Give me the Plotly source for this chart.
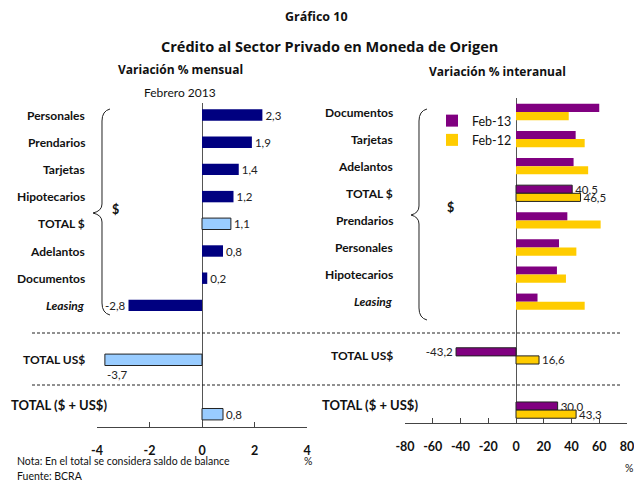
import plotly.graph_objects as go

# page body adds an 8px offset; figure sized to fit inside the window
OFF = 8
W, H = 642 - OFF, 482 - OFF
FONT = "Lato"
HEAD = "Open Sans"

# Variación % mensual (Febrero 2013)
cats_mensual = ["Personales", "Prendarios", "Tarjetas", "Hipotecarios", "TOTAL $",
                "Adelantos", "Documentos", "Leasing", "TOTAL US$", "TOTAL ($ + US$)"]
var_mensual = [2.3, 1.9, 1.4, 1.2, 1.1, 0.8, 0.2, -2.8, -3.7, 0.8]

# Variación % interanual
cats_interanual = ["Documentos", "Tarjetas", "Adelantos", "TOTAL $", "Prendarios",
                   "Personales", "Hipotecarios", "Leasing", "TOTAL US$", "TOTAL ($ + US$)"]
feb13 = [60.0, 43.0, 41.5, 40.5, 37.0, 31.0, 29.5, 15.5, -43.2, 30.0]
feb12 = [38.0, 49.5, 52.0, 46.5, 61.0, 43.5, 36.0, 49.5, 16.6, 43.3]

ticks_mensual = [-4, -2, 0, 2, 4]
ticks_interanual = [-80, -60, -40, -20, 0, 20, 40, 60, 80]

# slot of each category on the vertical axis (gap before the two totals)
slots = [0, 1, 2, 3, 4, 5, 6, 7, 9, 11]
totals = {"TOTAL $", "TOTAL US$", "TOTAL ($ + US$)"}


def fmt(v):
    return f"{v:.1f}".replace(".", ",")


def px(x):
    return (x - OFF) / W


def py(y):
    return 1 - (y - OFF) / H


fig = go.Figure()

# --- left panel: monthly change ---
left_colors = ["#99CCFF" if c in totals else "#000080" for c in cats_mensual]
left_lines = [1 if c in totals else 0 for c in cats_mensual]
left_text = ["" if c == "TOTAL US$" else fmt(v) for c, v in zip(cats_mensual, var_mensual)]
fig.add_trace(go.Bar(
    x=var_mensual, y=slots, orientation="h", width=0.42,
    marker=dict(color=left_colors, line=dict(color="#222222", width=left_lines)),
    text=left_text, textposition="outside", cliponaxis=False, constraintext="none",
    textfont=dict(family=FONT, size=11.5, color="#222222"),
    showlegend=False, xaxis="x", yaxis="y", hoverinfo="x+y",
))

# --- right panel: year-on-year change ---
right_lines = [1 if c in totals else 0 for c in cats_interanual]
for name, vals, color, offset in (("Feb-13", feb13, "#800080", -0.3),
                                  ("Feb-12", feb12, "#FFCC00", 0)):
    fig.add_trace(go.Bar(
        name=name, x=vals, y=slots, orientation="h", width=0.3, offset=offset,
        marker=dict(color=color, line=dict(color="#222222", width=right_lines)),
        text=[fmt(v) if c in totals else "" for c, v in zip(cats_interanual, vals)],
        textposition="outside", cliponaxis=False, constraintext="none",
        textfont=dict(family=FONT, size=11.5, color="#222222"),
        xaxis="x2", yaxis="y2",
    ))

axis_common = dict(showgrid=False, showline=True, linecolor="#444444", linewidth=1,
                   ticks="inside", ticklen=5, tickcolor="#444444",
                   zeroline=True, zerolinecolor="#555555", zerolinewidth=1,
                   tickfont=dict(family=FONT, size=12.5, color="#111111", weight="bold"),
                   ticklabelstandoff=12, ticklabeloverflow="allow", fixedrange=True)

fig.update_layout(
    width=W, height=H, autosize=False,
    margin=dict(l=0, r=0, t=0, b=0, autoexpand=False),
    paper_bgcolor="white", plot_bgcolor="white",
    barmode="overlay",
    font=dict(family=FONT, size=11, color="#111111"),
    xaxis=dict(domain=[px(97), px(307)], range=[-4, 4], anchor="y",
               tickvals=ticks_mensual, ticktext=[str(t) for t in ticks_mensual], **axis_common),
    yaxis=dict(domain=[py(427), py(103)], range=[(427 - 115) / 27.2, (103 - 115) / 27.2],
               anchor="x", visible=False, fixedrange=True),
    xaxis2=dict(domain=[px(405), px(627)], range=[-80, 80], anchor="y2",
                tickvals=ticks_interanual, ticktext=[str(t) for t in ticks_interanual],
                **axis_common),
    yaxis2=dict(domain=[py(423), py(98)], range=[(423 - 112) / 27.1, (98 - 112) / 27.1],
                anchor="x2", visible=False, fixedrange=True),
    legend=dict(x=px(432), y=py(106), xanchor="left", yanchor="top",
                font=dict(family=FONT, size=12.5, color="#111111"),
                bgcolor="rgba(0,0,0,0)", itemwidth=30, tracegroupgap=4),
)

# category labels
for c, s in zip(cats_mensual, slots):
    txt = f"<i>{c}</i>" if c == "Leasing" else c
    if c == "TOTAL ($ + US$)":
        fig.add_annotation(text=f"<b>{txt}</b>", xref="paper", x=px(9), xanchor="left",
                           yref="y", y=s, yshift=9, showarrow=False,
                           font=dict(family=FONT, size=13))
    else:
        fig.add_annotation(text=f"<b>{txt}</b>", xref="paper", x=px(87), xanchor="right",
                           yref="y", y=s, showarrow=False,
                           font=dict(family=FONT, size=12))
for c, s in zip(cats_interanual, slots):
    txt = f"<i>{c}</i>" if c == "Leasing" else c
    big = c == "TOTAL ($ + US$)"
    fig.add_annotation(text=f"<b>{txt}</b>", xref="paper", x=px(420 if big else 395),
                       xanchor="right", yref="y2", y=s, yshift=5 if big else 0,
                       showarrow=False, font=dict(family=FONT, size=13 if big else 12))

# US$ monthly value label sits below its bar
us_i = cats_mensual.index("TOTAL US$")
fig.add_annotation(text=fmt(var_mensual[us_i]), xref="x", x=var_mensual[us_i], xanchor="left",
                   yref="y", y=slots[us_i], yshift=-15, showarrow=False,
                   font=dict(family=FONT, size=11.5, color="#222222"))

# titles and notes
texts = [
    ("<b>Gráfico 10</b>", 316, 17, 12.5, "center", HEAD),
    ("<b>Crédito al Sector Privado en Moneda de Origen</b>", 330, 46, 14.5, "center", HEAD),
    ("<b>Variación % mensual</b>", 180, 70, 12, "center", HEAD),
    ("Febrero 2013", 180, 92, 12, "center", FONT),
    ("<b>Variación % interanual</b>", 497, 71, 12, "center", HEAD),
    ("<b>$</b>", 115, 209, 12.5, "center", FONT),
    ("<b>$</b>", 450, 208, 12.5, "center", FONT),
    ("%", 308, 461, 10.5, "center", FONT),
    ("%", 629, 468, 10.5, "center", FONT),
    ("Nota: En el total se considera saldo de balance", 15, 461, 10.5, "left", FONT),
    ("Fuente: BCRA", 15, 476, 10.5, "left", FONT),
]
for t, x, y, size, anchor, fam in texts:
    fig.add_annotation(text=t, xref="paper", yref="paper", x=px(x), y=py(y),
                       xanchor=anchor, yanchor="middle", showarrow=False,
                       font=dict(family=fam, size=size, color="#111111"))


def brace(x_end, x_line, x_tip, y_top, y_mid, y_bot):
    pts = [("M", x_end, y_top), ("Q", x_line, y_top + 2), ("", x_line, y_top + 12),
           ("L", x_line, y_mid - 9), ("Q", x_line, y_mid - 2), ("", x_tip, y_mid),
           ("Q", x_line, y_mid + 2), ("", x_line, y_mid + 9),
           ("L", x_line, y_bot - 12), ("Q", x_line, y_bot - 2), ("", x_end, y_bot)]
    return " ".join(f"{cmd} {px(x):.5f},{py(y):.5f}".strip() for cmd, x, y in pts)


for path in (brace(110, 102, 93, 109, 213, 315), brace(427, 419, 411, 109, 215, 320)):
    fig.add_shape(type="path", path=path, xref="paper", yref="paper",
                  line=dict(color="#222222", width=1))

# dashed separators
for y in (333, 385):
    fig.add_shape(type="line", xref="paper", yref="paper", x0=px(32), x1=px(622),
                  y0=py(y), y1=py(y), line=dict(color="#222222", width=1, dash="3px,2px"))

fig.write_html("out.html")
